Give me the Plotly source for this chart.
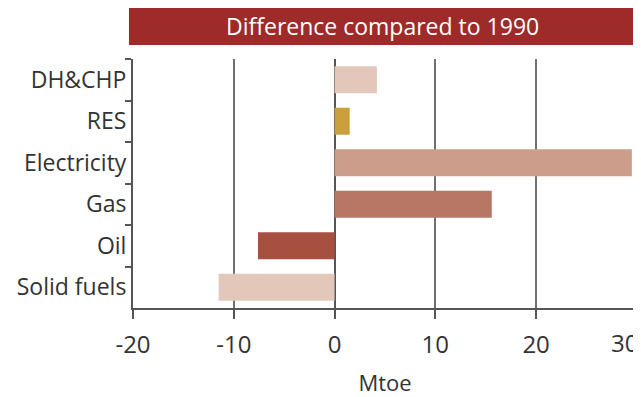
import plotly.graph_objects as go

categories = ["DH&CHP", "RES", "Electricity", "Gas", "Oil", "Solid fuels"]
values = [4.2, 1.5, 29.5, 15.6, -7.6, -11.5]
colors = ["#e3c7ba", "#c9a03c", "#cc9d8b", "#b87665", "#a8503f", "#e3c7ba"]
x_ticks = [-20, -10, 0, 10, 20, 30]
x_ticktext = ["-20", "-10", "0", "10", "20", "30"]
title_text = "Difference compared to 1990"
x_title = "Mtoe"

fig = go.Figure(go.Bar(
    x=values, y=categories, orientation="h",
    marker=dict(color=colors, line=dict(width=0)),
    width=0.65,
))

font_family = "Open Sans, Noto Sans, sans-serif"

# last tick label is drawn as an annotation nudged left so it stays inside the window
axis_labels = x_ticktext[:-1] + [""]
last_label = dict(text=x_ticktext[-1], xref="x", yref="paper",
                  x=x_ticks[-1], y=-0.138, xshift=-12,
                  xanchor="center", yanchor="middle", showarrow=False,
                  font=dict(family=font_family, size=24, color="#333"))

# page body has an 8px margin, so the figure is sized to fill the rest of the window
fig.update_layout(
    width=633, height=389,
    margin=dict(l=125, r=4, t=51, b=89, autoexpand=False),
    paper_bgcolor="white", plot_bgcolor="white",
    showlegend=False,
    font=dict(family=font_family, size=23, color="#333"),
    bargap=0.35,
    shapes=[dict(type="rect", xref="paper", yref="paper",
                 x0=-0.008, x1=0.998, y0=1.056, y1=1.21,
                 fillcolor="#9e2b2a", line=dict(width=0), layer="below")],
    annotations=[dict(text=title_text, xref="paper", yref="paper",
                      x=0.495, y=1.133, xanchor="center", yanchor="middle",
                      showarrow=False,
                      font=dict(family=font_family, size=23, color="white")),
                 last_label],
)

fig.update_xaxes(
    range=[-20, 30.01], tickvals=x_ticks, ticktext=axis_labels,
    tickfont=dict(size=24),
    automargin=False, ticklabeloverflow="allow", ticklabelstandoff=5,
    showgrid=True, gridcolor="#707070", gridwidth=2,
    zeroline=True, zerolinecolor="#555", zerolinewidth=2,
    showline=True, linecolor="#555", linewidth=2,
    ticks="outside", ticklen=9, tickwidth=2, tickcolor="#555",
    title=dict(text=x_title, font=dict(size=22, color="#333"), standoff=17),
)
fig.update_yaxes(
    categoryorder="array", categoryarray=categories, autorange="reversed",
    automargin=False,
    showgrid=False, showline=True, linecolor="#555", linewidth=2,
    ticks="outside", tickson="boundaries", ticklen=6, tickwidth=2, tickcolor="#555",
)

fig.write_html("out.html")
